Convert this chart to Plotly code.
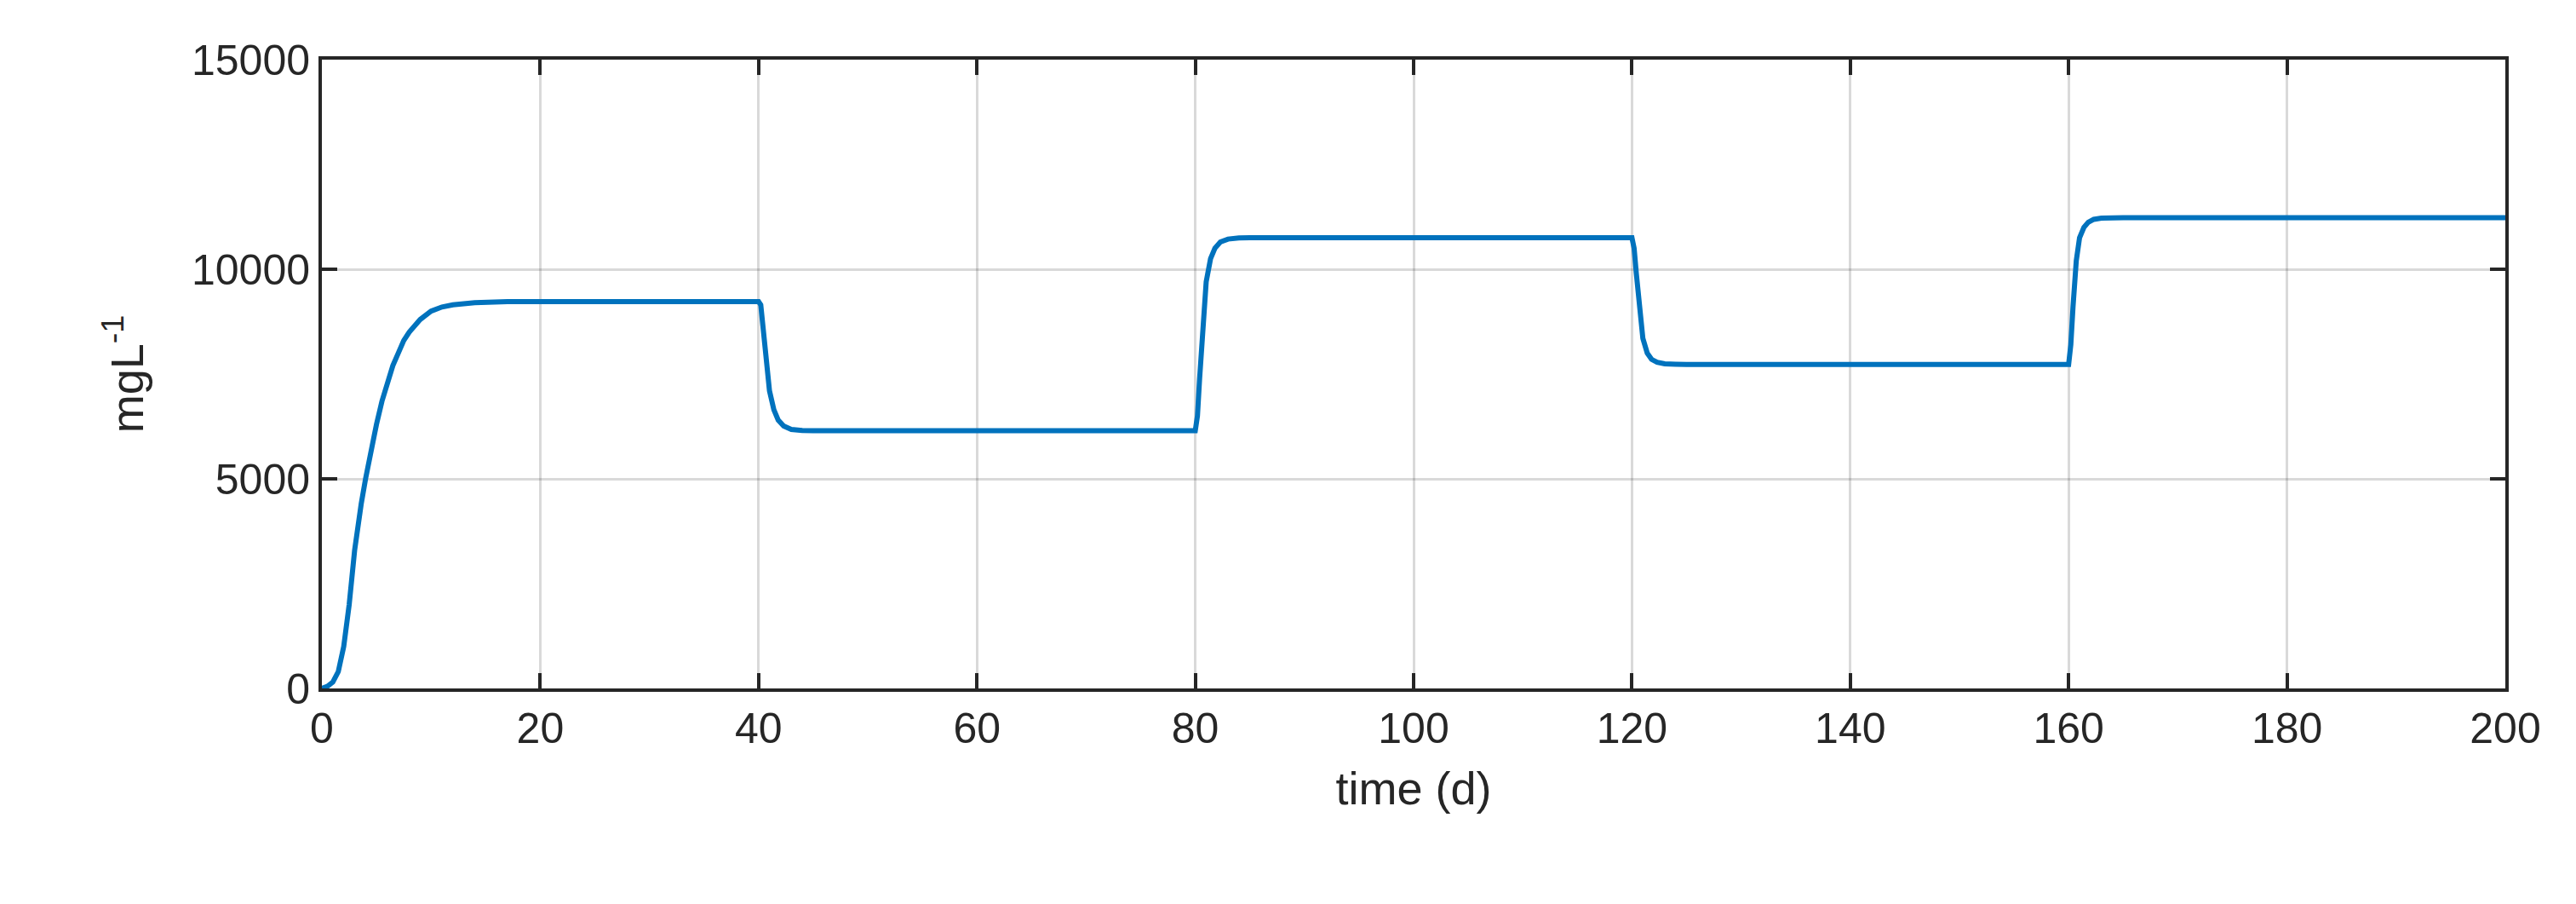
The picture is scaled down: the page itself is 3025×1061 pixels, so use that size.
import plotly.graph_objects as go

time_d = [0, 0.5, 1, 1.5, 2, 2.5, 3, 3.3, 3.6, 4, 4.5, 5, 5.5, 6, 6.5, 7, 7.5, 8, 9, 10, 11, 12, 14, 17, 40,
          40.2, 40.4, 40.7, 41.0, 41.4, 41.8, 42.3, 43, 44, 45, 80,
          80.2, 80.4, 80.7, 81.0, 81.4, 81.8, 82.3, 83, 84, 85, 120,
          120.2, 120.4, 120.7, 121.0, 121.4, 121.8, 122.3, 123, 124, 125, 160,
          160.2, 160.4, 160.7, 161.0, 161.4, 161.8, 162.3, 163, 164, 165, 200]
conc = [0, 50, 150, 400, 1000, 2000, 3300, 3900, 4400, 5000, 5700, 6300, 6850, 7300, 7700, 8000, 8300, 8500, 8800, 9000, 9100, 9150, 9200, 9230, 9230,
        9150, 8700, 7800, 7100, 6650, 6400, 6260, 6180, 6155, 6150, 6150,
        6500, 7400, 8800, 9700, 10250, 10500, 10650, 10720, 10745, 10750, 10750,
        10500, 9900, 8950, 8350, 8000, 7850, 7780, 7745, 7735, 7730, 7730,
        8200, 9100, 10200, 10750, 11000, 11120, 11190, 11220, 11230, 11230, 11230]
x_ticks = list(range(0, 201, 20))
y_ticks = [0, 5000, 10000, 15000]

font = "Liberation Sans, Arial"
fig = go.Figure(go.Scatter(x=time_d, y=conc, mode="lines", line=dict(color="#0072BD", width=6)))
ax = dict(showline=True, linecolor="#262626", linewidth=4, mirror="ticks", ticks="inside", ticklen=18, tickwidth=4,
          tickcolor="#262626", showgrid=True, gridcolor="rgba(0,0,0,0.15)", gridwidth=3, zeroline=False,
          tickfont=dict(family=font, size=50, color="#262626"))
fig.update_xaxes(**ax, range=[0, 200], tickvals=x_ticks, ticktext=[str(v) for v in x_ticks],
                 title=dict(text="time (d)", font=dict(family=font, size=54, color="#262626"), standoff=25))
fig.update_yaxes(**ax, range=[0, 15000], tickvals=y_ticks, ticktext=[str(v) for v in y_ticks],
                 title=dict(text="mgL<sup>-1</sup>", font=dict(family=font, size=54, color="#262626"), standoff=40))
fig.update_layout(width=3025, height=1061, margin=dict(l=370, r=91, t=62, b=261),
                  plot_bgcolor="white", paper_bgcolor="white", showlegend=False)
fig.write_html("out.html")
